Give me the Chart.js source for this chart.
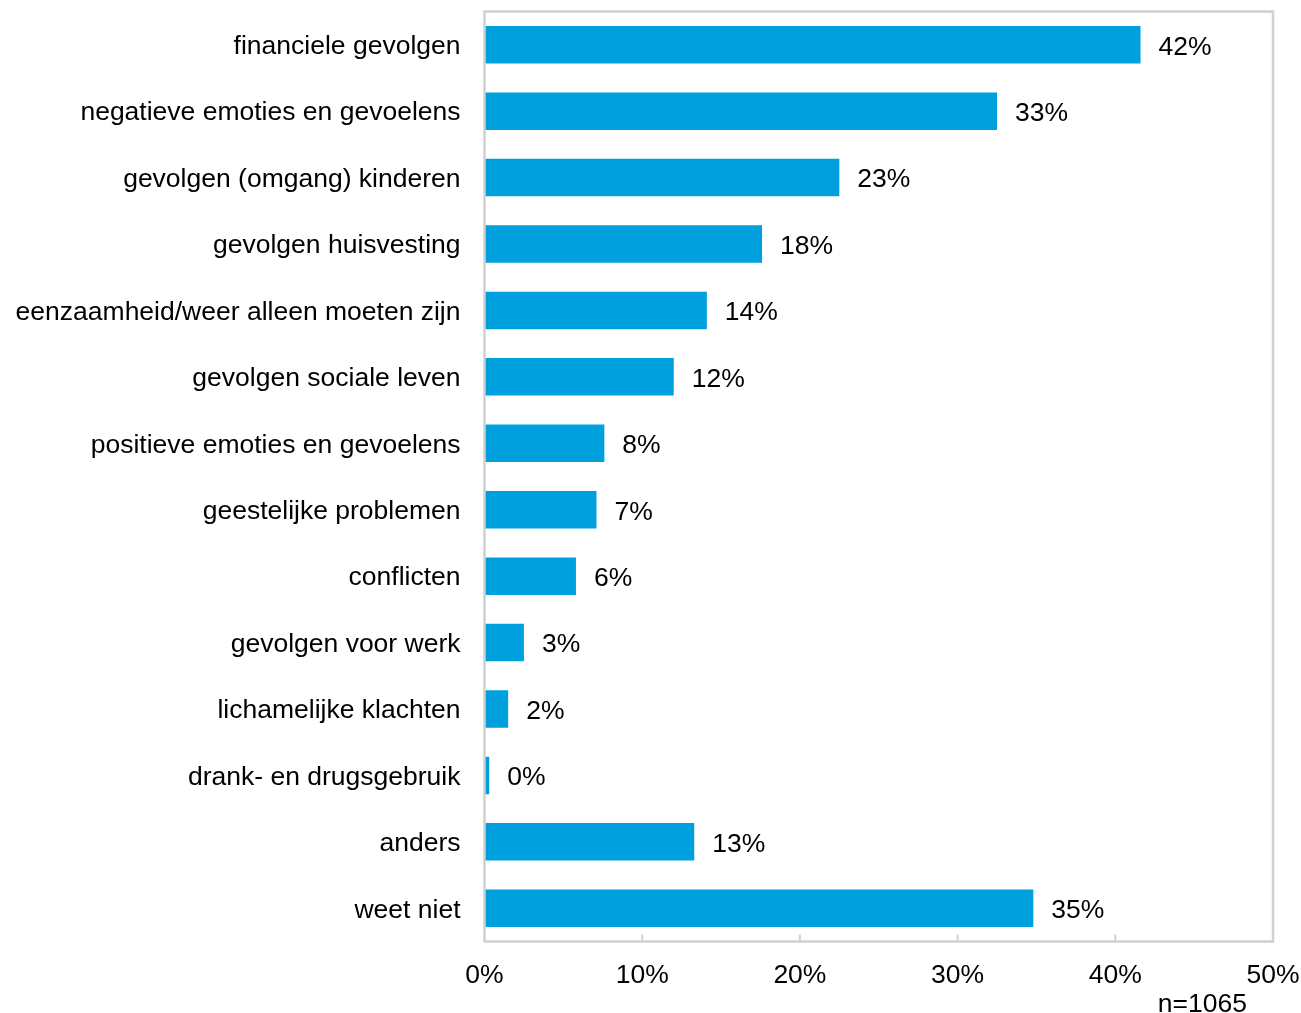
<!DOCTYPE html>
<html>
<head>
<meta charset="utf-8">
<script src="https://cdn.jsdelivr.net/npm/chart.js@4/dist/chart.umd.min.js"></script>
<style>
  html, body { margin: 0; padding: 0; background: #fff; }
  #wrap { width: 1301px; height: 1013px; }
</style>
</head>
<body>
<div id="wrap"><canvas id="myChart"></canvas></div>
<script>
const categories = [
  'financiele gevolgen',
  'negatieve emoties en gevoelens',
  'gevolgen (omgang) kinderen',
  'gevolgen huisvesting',
  'eenzaamheid/weer alleen moeten zijn',
  'gevolgen sociale leven',
  'positieve emoties en gevoelens',
  'geestelijke problemen',
  'conflicten',
  'gevolgen voor werk',
  'lichamelijke klachten',
  'drank- en drugsgebruik',
  'anders',
  'weet niet'
];
const percentages = [41.6, 32.5, 22.5, 17.6, 14.1, 12.0, 7.6, 7.1, 5.8, 2.5, 1.5, 0.3, 13.3, 34.8];
const xTicks = [0, 10, 20, 30, 40, 50];
const sampleNote = 'n=1065';

const FONT = 'Liberation Sans, Arial, sans-serif';
const FSIZE = 26.5;

const framePlugin = {
  id: 'frame',
  afterDraw(chart) {
    const { ctx, chartArea: a, scales } = chart;
    ctx.save();
    ctx.strokeStyle = '#d0d0d0';
    ctx.lineWidth = 2.5;
    ctx.strokeRect(a.left, a.top, a.right - a.left, a.bottom - a.top);
    ctx.lineWidth = 2;
    xTicks.slice(1, -1).forEach(t => {
      const x = scales.x.getPixelForValue(t);
      ctx.beginPath();
      ctx.moveTo(x, a.bottom);
      ctx.lineTo(x, a.bottom - 7);
      ctx.stroke();
    });
    ctx.fillStyle = '#000';
    ctx.font = FSIZE + 'px ' + FONT;
    ctx.textAlign = 'right';
    ctx.textBaseline = 'middle';
    ctx.fillText(sampleNote, a.right - 26, 1005);
    ctx.restore();
  }
};

const valueLabels = {
  id: 'valueLabels',
  afterDatasetsDraw(chart) {
    const { ctx } = chart;
    const meta = chart.getDatasetMeta(0);
    ctx.save();
    ctx.fillStyle = '#000';
    ctx.font = FSIZE + 'px ' + FONT;
    ctx.textAlign = 'left';
    ctx.textBaseline = 'middle';
    meta.data.forEach((bar, i) => {
      ctx.fillText(Math.round(percentages[i]) + '%', bar.x + 18, bar.y + 2.5);
    });
    ctx.restore();
  }
};

// drop the extra padding chart.js reserves for half-labels
function noPad(s) {
  s.paddingTop = 0; s.paddingBottom = 0; s.paddingLeft = 0; s.paddingRight = 0;
}

new Chart(document.getElementById('myChart'), {
  type: 'bar',
  data: {
    labels: categories,
    datasets: [{
      data: percentages,
      backgroundColor: '#00A0DE',
      borderWidth: 0,
      categoryPercentage: 1,
      barPercentage: 0.565
    }]
  },
  options: {
    indexAxis: 'y',
    responsive: true,
    maintainAspectRatio: false,
    animation: false,
    layout: { padding: { top: 11.5, right: 28, bottom: 0, left: 0 } },
    plugins: { legend: { display: false }, tooltip: { enabled: false } },
    scales: {
      x: {
        min: 0,
        max: 50,
        afterBuildTicks(s) { s.ticks = xTicks.map(v => ({ value: v })); },
        afterFit(s) { s.height = 71.5; noPad(s); },
        grid: { display: false, drawTicks: false },
        border: { display: false },
        ticks: {
          color: '#000',
          font: { family: FONT, size: FSIZE },
          padding: 18,
          maxRotation: 0,
          callback: v => v + '%'
        }
      },
      y: {
        afterFit(s) { s.width = 484.5; noPad(s); },
        grid: { display: false, drawTicks: false },
        border: { display: false },
        ticks: {
          color: '#000',
          font: { family: FONT, size: FSIZE },
          padding: 24,
          labelOffset: 2,
          autoSkip: false
        }
      }
    }
  },
  plugins: [framePlugin, valueLabels]
});
</script>
</body>
</html>
